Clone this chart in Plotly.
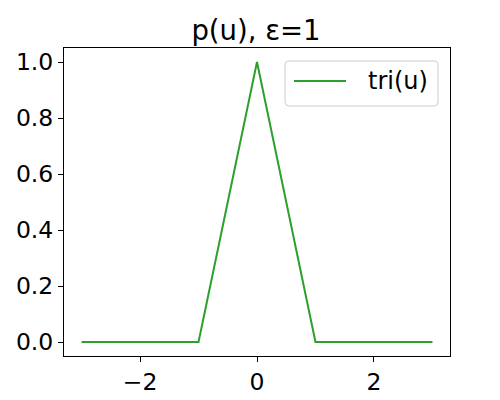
import plotly.graph_objects as go

u_vals = [-3, -1, 0, 1, 3]
tri_vals = [0, 0, 1, 0, 0]
series_name = "tri(u)"
x_ticks = [-2, 0, 2]
y_ticks = [0.0, 0.2, 0.4, 0.6, 0.8, 1.0]
y_tick_labels = ["0.0", "0.2", "0.4", "0.6", "0.8", "1.0"]
x_tick_labels = ["\u22122", "0", "2"]

FONT = "DejaVu Sans"
W, H = 492, 392  # page body has an 8px offset
GREEN = "#2ca02c"

fig = go.Figure()
fig.add_trace(go.Scatter(x=u_vals, y=tri_vals, mode="lines", name=series_name,
                         line=dict(color=GREEN, width=2), showlegend=False))

# matplotlib-style legend box (paper coordinates)
PW, PH = 386.0, 308.0
bx0, bx1, by0, by1 = 0.5725, 0.969, 0.8117, 0.9578
rx, ry = 4 / PW, 4 / PH
path = (f"M{bx0+rx},{by1} L{bx1-rx},{by1} Q{bx1},{by1} {bx1},{by1-ry} "
        f"L{bx1},{by0+ry} Q{bx1},{by0} {bx1-rx},{by0} L{bx0+rx},{by0} "
        f"Q{bx0},{by0} {bx0},{by0+ry} L{bx0},{by1-ry} Q{bx0},{by1} {bx0+rx},{by1} Z")
fig.add_shape(type="path", path=path, xref="paper", yref="paper",
              fillcolor="rgba(255,255,255,0.8)", line=dict(color="#cccccc", width=1))
ly = 0.8929
fig.add_shape(type="line", xref="paper", yref="paper", x0=0.5959, x1=0.7306,
              y0=ly, y1=ly, line=dict(color=GREEN, width=2))
fig.add_annotation(text=series_name, xref="paper", yref="paper", x=0.7824, y=ly,
                   xanchor="left", yanchor="middle", showarrow=False,
                   font=dict(size=24, family=FONT, color="black"))

fig.update_layout(
    width=W, height=H,
    paper_bgcolor="white", plot_bgcolor="white",
    margin=dict(l=56, r=50, t=40, b=44),
    font=dict(family=FONT, size=23.5, color="black"),
    title=dict(text="p(u), \u03b5=1", x=(256 - 8) / W, xanchor="center",
               y=1 - 22 / H, yanchor="middle", font=dict(size=27.5, family=FONT)),
    showlegend=False,
)
fig.update_xaxes(range=[-3.3, 3.3], tickvals=x_ticks, ticktext=x_tick_labels,
                 showgrid=False, zeroline=False, showline=True, linecolor="black",
                 linewidth=1, mirror=True, ticks="outside", ticklen=5, tickcolor="black",
                 automargin=False)
fig.update_yaxes(range=[-0.05, 1.05], tickvals=y_ticks, ticktext=y_tick_labels,
                 showgrid=False, zeroline=False, showline=True, linecolor="black",
                 linewidth=1, mirror=True, ticks="outside", ticklen=5, tickcolor="black",
                 automargin=False)

fig.write_html("out.html")
